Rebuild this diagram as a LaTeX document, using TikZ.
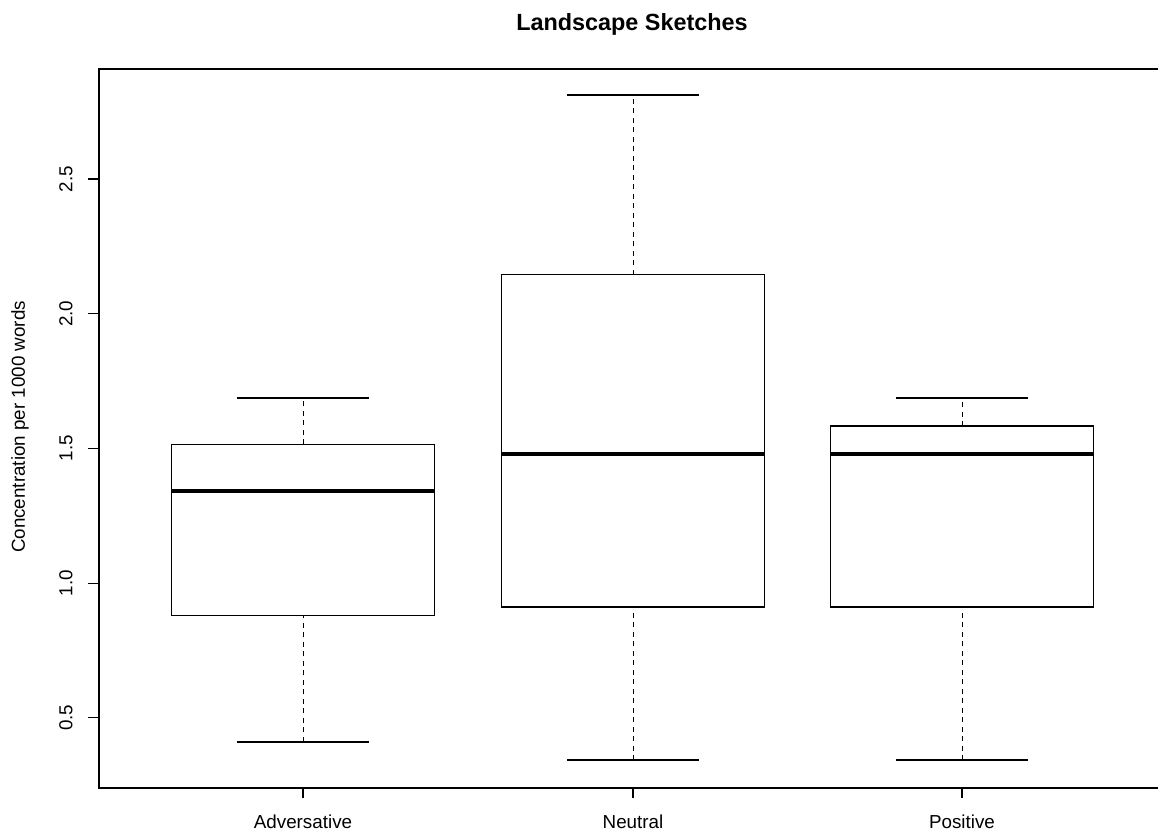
\documentclass[tikz,border=0pt]{standalone}
\usepackage{fontspec}
\setmainfont{Liberation Sans}
\tikzset{whisk/.style={draw,dash pattern=on 5pt off 4.5pt,line width=1pt}}
\tikzset{boxp/.style={draw,line width=1.1pt}}
\tikzset{medline/.style={draw,line width=4pt}}
\tikzset{axisl/.style={draw,line width=1.1pt}}
\tikzset{ticklab/.style={font=\fontsize{18.8}{21}\selectfont,inner sep=0pt}}
% data value -> pixel row
\newcommand{\yv}[1]{852.4-269.35*#1}
\begin{document}
\begin{tikzpicture}[x=1pt,y=-1pt]
    \useasboundingbox (0,0) rectangle (1158,833);

    \node[font=\bfseries\fontsize{23.4}{26}\selectfont,inner sep=0pt] (title) at (632,24) {Landscape Sketches};

    % axes
    \draw[axisl] (1158,69) -- (99,69) -- (99,788) -- (1158,788);
    \foreach \v in {0.5,1.0,1.5,2.0,2.5}{
        \draw[axisl] (88,{\yv{\v}}) -- (99,{\yv{\v}});
        \node[ticklab,rotate=90] (ylab-\v) at (66,{\yv{\v}}) {\v};
    }
    \node[ticklab,rotate=90] (ylabel) at (20,427) {Concentration per 1000 words};

    % boxes
    \foreach \i/\cx/\lo/\qa/\md/\qb/\hi/\lab in {1/303/0.41/0.878/1.342/1.516/1.687/Adversative,
                                                 2/633/0.343/0.911/1.479/2.144/2.812/Neutral,
                                                 3/962/0.343/0.911/1.479/1.583/1.687/Positive}{
        \draw[whisk] (\cx,{\yv{\lo}}) -- (\cx,{\yv{\qa}});
        \draw[whisk] (\cx,{\yv{\qb}}) -- (\cx,{\yv{\hi}});
        \draw[boxp] (\cx-66,{\yv{\lo}}) -- (\cx+66,{\yv{\lo}});
        \draw[boxp] (\cx-66,{\yv{\hi}}) -- (\cx+66,{\yv{\hi}});
        \draw[boxp,fill=white] (\cx-131.5,{\yv{\qa}}) rectangle (\cx+131.5,{\yv{\qb}});
        \draw[medline] (\cx-131.5,{\yv{\md}}) -- (\cx+131.5,{\yv{\md}});
        \draw[axisl] (\cx,788) -- (\cx,798);
        \node[ticklab] (xlab-\i) at (\cx,822) {\lab};
    }
\end{tikzpicture}
\end{document}
